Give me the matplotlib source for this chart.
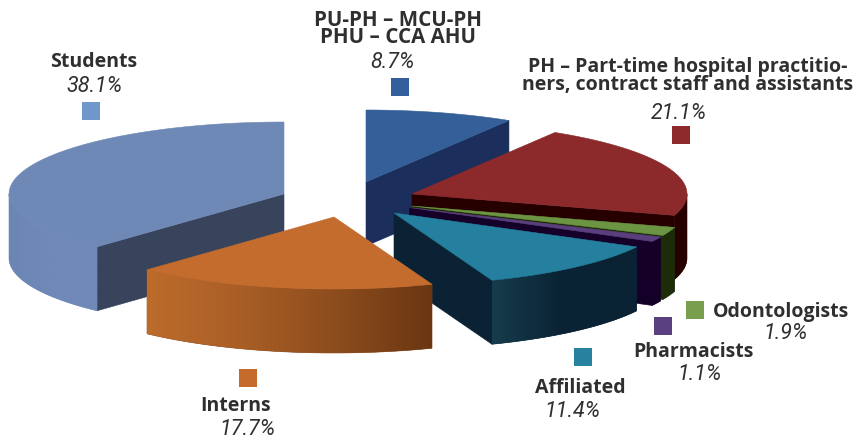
import numpy as np
import matplotlib
matplotlib.use("Agg")
import matplotlib.pyplot as plt
from matplotlib.patches import Polygon, Rectangle
from matplotlib.colors import to_rgb, LinearSegmentedColormap

# ---- data (clockwise from 12 o'clock) ----
categories = ["PU-PH – MCU-PH\nPHU – CCA AHU",
              "PH – Part-time hospital practitio-\nners, contract staff and assistants",
              "Odontologists", "Pharmacists", "Affiliated", "Interns", "Students"]
values = [8.7, 21.1, 1.9, 1.1, 11.4, 17.7, 38.1]
value_labels = ["8.7%", "21.1%", "1.9%", "1.1%", "11.4%", "17.7%", "38.1%"]

# ---- styling / layout, in pixels ----
W, H = 855, 439
RX, RY, DEPTH = 275, 72, 64
top_colors = ["#345f99", "#8c2a2b", "#6c9543", "#5a3e7e", "#24809e", "#c46c2d", "#6f89b7"]
key_colors = ["#33609d", "#8f2a2c", "#789f4e", "#5a4080", "#26829f", "#c56c2c", "#6f97cc"]
face_colors = ["#1b2e5c", "#260000", "#1d2c08", "#140028", "#0a2233", "#6b3712", "#38445c"]
# rim shading, left to right across the slice
rim_stops = [["#1b2e5c"], ["#260000", "#260000"], ["#1d2c08", "#1d2c08"], ["#140028", "#140028"],
             ["#173c4c", "#0f2f40", "#0a2233", "#0a2233", "#0a2233"],
             ["#bc6c2b", "#a95e26", "#8c4c1d", "#6a3612"],
             ["#6c86b3", "#7089b8", "#7089b8"]]
tips = [(366, 183), (412, 195), (412, 207), (409.6, 208.6), (394, 214), (334, 218), (284, 195)]
draw_order = [6, 0, 1, 2, 3, 4, 5]
keys = [(391, 79), (672, 127), (686, 302), (654, 318), (574, 349), (239, 370), (82, 103)]
name_pos = [(397.5, 29), (688, 76), (781, 312), (693.5, 352), (580, 388), (236, 406), (94, 62)]
pct_pos = [(392, 62), (679, 114), (785, 334), (699, 375), (572.5, 412), (247, 430), (94, 86)]
name_size = [14.8, 14, 14, 14, 14, 14, 14]
name_spacing = [0.76, 0.93, 1, 1, 1, 1, 1]

FONT = "Open Sans"
TEXT = "#2f2f2f"

fig = plt.figure(figsize=(W / 100, H / 100), dpi=100, facecolor="white")
ax = fig.add_axes([0, 0, 1, 1])
ax.set_xlim(0, W)
ax.set_ylim(H, 0)
ax.axis("off")


def pt(tip, deg, dz=0.0):
    a = np.radians(deg)
    return tip[0] + RX * np.sin(a), tip[1] - RY * np.cos(a) + dz


def poly(points, color, z):
    p = Polygon(points, closed=True, facecolor=color, edgecolor=color,
                linewidth=0.4, zorder=z, joinstyle="round")
    ax.add_patch(p)
    return p


edges = np.concatenate([[0], np.cumsum(values)]) / np.sum(values) * 360.0

for z, i in enumerate(draw_order):
    a0, a1 = edges[i], edges[i + 1]
    tip = tips[i]
    zb = z * 10 + 1
    # cut face that looks towards the viewer
    if a1 < 180:
        poly([tip, pt(tip, a1), pt(tip, a1, DEPTH), (tip[0], tip[1] + DEPTH)], face_colors[i], zb)
    if a0 > 180:
        poly([tip, pt(tip, a0), pt(tip, a0, DEPTH), (tip[0], tip[1] + DEPTH)], face_colors[i], zb)
    # outer rim, front half only, horizontal shading clipped to the rim outline
    lo, hi = max(a0, 90), min(a1, 270)
    if hi > lo:
        steps = np.linspace(lo, hi, 80)
        outline = [pt(tip, d) for d in steps] + [pt(tip, d, DEPTH) for d in steps[::-1]]
        stops = rim_stops[i]
        clip = poly(outline, stops[len(stops) // 2], zb + 1)
        xs = [p[0] for p in outline]
        ys = [p[1] for p in outline]
        cmap = LinearSegmentedColormap.from_list(f"rim{i}", [to_rgb(c) for c in stops])
        im = ax.imshow(np.linspace(0, 1, 256)[None, :], cmap=cmap, aspect="auto",
                       extent=(min(xs), max(xs), max(ys), min(ys)), zorder=zb + 1.5,
                       interpolation="bilinear")
        im.set_clip_path(clip)
    # top surface
    arc = [pt(tip, d) for d in np.linspace(a0, a1, 80)]
    poly([tip] + arc, top_colors[i], zb + 2)

ax.set_xlim(0, W)
ax.set_ylim(H, 0)

for i in range(len(values)):
    ax.add_patch(Rectangle(keys[i], 18, 18, facecolor=key_colors[i], edgecolor="none", zorder=100))
    ax.text(*name_pos[i], categories[i], ha="center", va="center", family=FONT, weight="bold",
            fontsize=name_size[i], color=TEXT, linespacing=name_spacing[i], zorder=101)
    ax.text(*pct_pos[i], value_labels[i], ha="center", va="center", family="Roboto", style="italic",
            fontsize=15.5, weight="normal", color=TEXT, zorder=101)

fig.savefig("out.png", dpi=100)
